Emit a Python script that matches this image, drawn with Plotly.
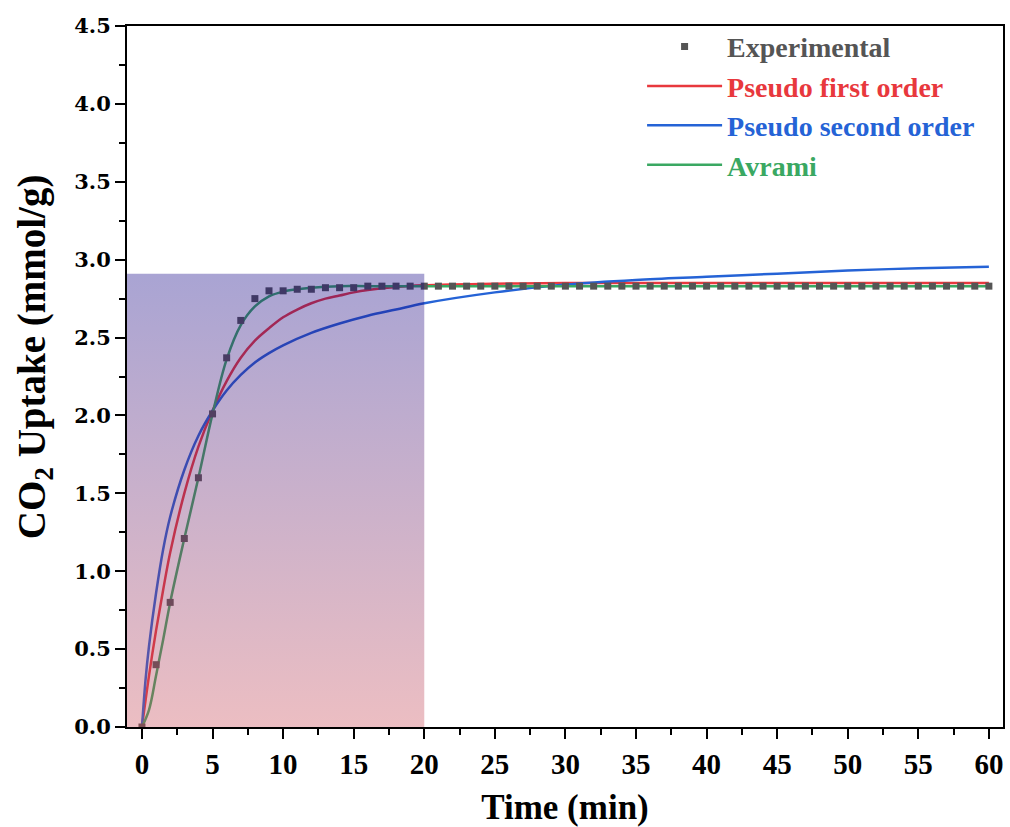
import plotly.graph_objects as go

# ---------------- data ----------------
t_exp = list(range(0, 61))
q_exp = [0.00, 0.40, 0.80, 1.21, 1.60, 2.01, 2.37, 2.61, 2.75, 2.80,
         2.80, 2.81, 2.81, 2.82, 2.82, 2.82, 2.83, 2.83, 2.83, 2.83,
         2.83, 2.83, 2.83, 2.83, 2.83, 2.83, 2.83, 2.83, 2.83, 2.83,
         2.83, 2.83, 2.83, 2.83, 2.83, 2.83, 2.83, 2.83, 2.83, 2.83,
         2.83, 2.83, 2.83, 2.83, 2.83, 2.83, 2.83, 2.83, 2.83, 2.83,
         2.83, 2.83, 2.83, 2.83, 2.83, 2.83, 2.83, 2.83, 2.83, 2.83,
         2.83]

t_pfo = [0, 0.5, 1, 1.5, 2, 3, 4, 5, 6, 7, 8, 9, 10, 11, 12, 13, 14, 15, 16, 18, 20, 25, 30, 40, 50, 60]
q_pfo = [0, 0.33, 0.62, 0.88, 1.12, 1.50, 1.80, 2.03, 2.22, 2.37, 2.48, 2.56, 2.63, 2.68,
         2.72, 2.75, 2.77, 2.79, 2.805, 2.825, 2.835, 2.845, 2.85, 2.85, 2.85, 2.85]

t_pso = [0, 0.25, 0.5, 1, 1.5, 2, 3, 4, 5, 6, 7, 8, 9, 10, 12, 14, 16, 18, 20, 25, 30, 35, 40, 45, 50, 55, 60]
q_pso = [0, 0.30, 0.52, 0.86, 1.14, 1.35, 1.65, 1.87, 2.03, 2.16, 2.26, 2.34, 2.40, 2.45,
         2.53, 2.59, 2.64, 2.68, 2.72, 2.79, 2.84, 2.87, 2.89, 2.91, 2.93, 2.945, 2.955]

t_avr = [0, 0.5, 1, 1.5, 2, 3, 4, 5, 6, 7, 8, 9, 10, 11, 12, 14, 16, 20, 30, 40, 50, 60]
q_avr = [0, 0.11, 0.33, 0.56, 0.80, 1.21, 1.60, 2.01, 2.36, 2.58, 2.70, 2.765,
         2.795, 2.81, 2.82, 2.83, 2.83, 2.83, 2.83, 2.83, 2.83, 2.83]

# shaded region (x from left axis edge to 20 min, y from 0 to ~2.91)
shade_x = [-1.06, 20, 20, -1.06, -1.06]
shade_y = [0, 0, 2.91, 2.91, 0]

x_ticks = list(range(0, 61, 5))
y_ticks = [0.0, 0.5, 1.0, 1.5, 2.0, 2.5, 3.0, 3.5, 4.0, 4.5]

C_EXP = "#555555"
C_RED = "#e8383d"
C_BLUE = "#2563d6"
C_GREEN = "#3aa862"
FONT = "Liberation Serif"

fig = go.Figure()

def lab(txt, col):
    return f"<span style='color:{col}'><b>{txt}</b></span>"

fig.add_trace(go.Scatter(x=t_pfo, y=q_pfo, mode="lines", line=dict(color=C_RED, width=2.5, shape="spline"),
                         name=lab("Pseudo first order", C_RED), legendgroup="b", legendrank=2))
fig.add_trace(go.Scatter(x=t_pso, y=q_pso, mode="lines", line=dict(color=C_BLUE, width=2.5, shape="spline"),
                         name=lab("Pseudo second order", C_BLUE), legendgroup="c", legendrank=3))
fig.add_trace(go.Scatter(x=t_avr, y=q_avr, mode="lines", line=dict(color=C_GREEN, width=2.5, shape="spline"),
                         name=lab("Avrami", C_GREEN), legendgroup="d", legendrank=4))
fig.add_trace(go.Scatter(x=t_exp, y=q_exp, mode="markers",
                         marker=dict(symbol="square", size=7, color=C_EXP),
                         name=lab("Experimental", C_EXP), legendgroup="a", legendrank=1))
fig.add_trace(go.Scatter(x=shade_x, y=shade_y, mode="lines", line=dict(width=0),
                         fill="toself",
                         fillgradient=dict(type="vertical", start=0, stop=2.91,
                                           colorscale=[[0, "rgba(202,74,86,0.36)"],
                                                       [1, "rgba(16,2,133,0.36)"]]),
                         showlegend=False, hoverinfo="skip"))

axis_common = dict(
    showline=True, linecolor="black", linewidth=2, mirror=True,
    ticks="outside", ticklen=10, tickwidth=2, tickcolor="black",
    showgrid=False, zeroline=False,
)

fig.update_xaxes(range=[-1.06, 61], tickvals=x_ticks,
                 tickfont=dict(family=FONT, size=29, color="black", weight="bold"),
                 minor=dict(ticks="outside", ticklen=6, tickwidth=2, tickcolor="black", dtick=2.5, tick0=0),
                 title=dict(text="<b>Time (min)</b>", font=dict(family=FONT, size=35, color="black"), standoff=16),
                 **axis_common)
fig.update_yaxes(range=[0, 4.5], tickvals=y_ticks, tickformat=".1f",
                 tickfont=dict(family="DejaVu Serif", size=21, color="black", weight="bold"),
                 minor=dict(ticks="outside", ticklen=6, tickwidth=2, tickcolor="black", dtick=0.25, tick0=0),
                 **axis_common)

# y-axis title placed as an annotation (reference title sits above the axis centre)
fig.add_annotation(text="<b>CO<sub>2</sub> Uptake (mmol/g)</b>", textangle=-90,
                   xref="paper", yref="paper", x=(34 - 127) / 878, y=(727 - 357) / 701,
                   xanchor="center", yanchor="middle", showarrow=False,
                   font=dict(family=FONT, size=39, color="black"))

fig.update_layout(
    width=1010, height=827,
    margin=dict(l=127, r=5, t=26, b=100),
    paper_bgcolor="white", plot_bgcolor="white",
    showlegend=True,
    legend=dict(x=0.588, y=1.006, xanchor="left", yanchor="top",
                bgcolor="rgba(0,0,0,0)", borderwidth=0,
                font=dict(family=FONT, size=28),
                traceorder="grouped", tracegroupgap=0, itemwidth=75),
)

fig.write_html("out.html")
